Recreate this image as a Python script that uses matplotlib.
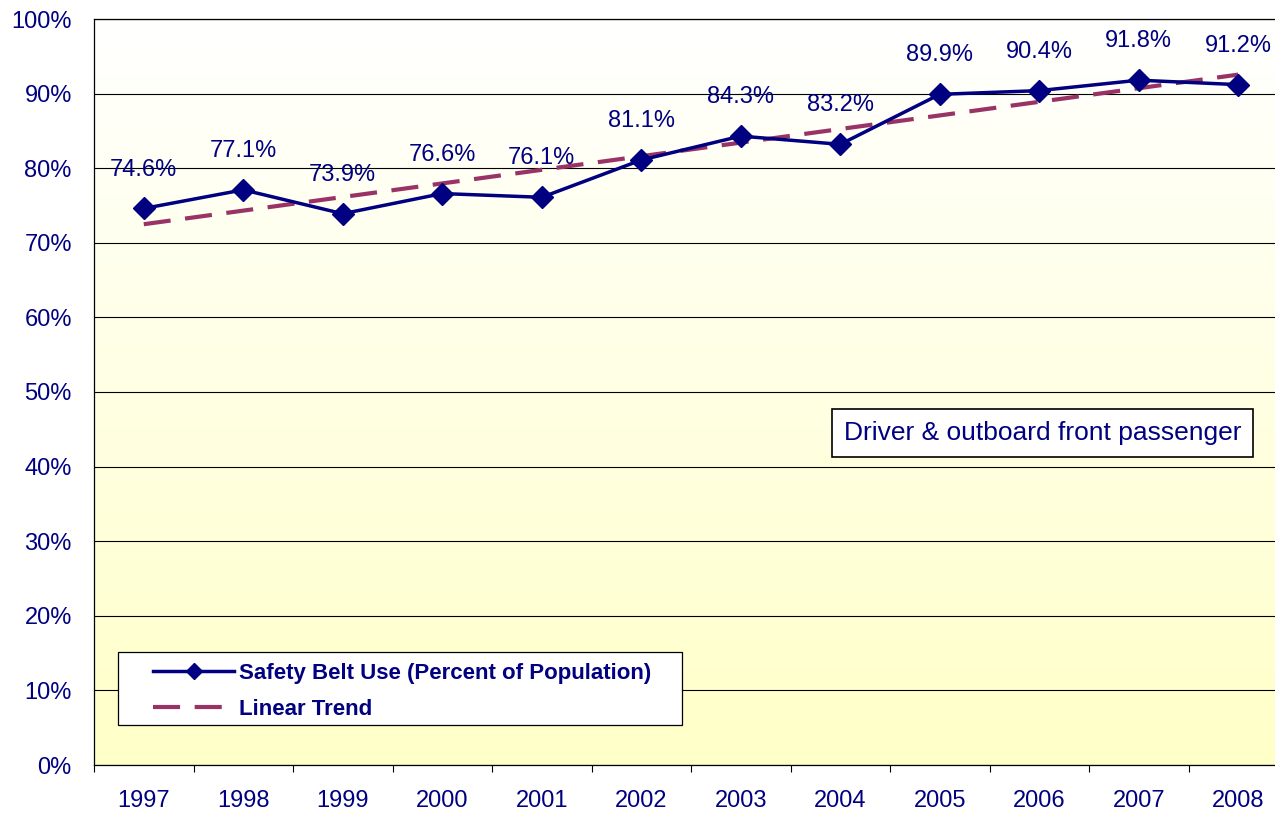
import numpy as np
import matplotlib
matplotlib.use("Agg")
import matplotlib.pyplot as plt
from matplotlib.colors import LinearSegmentedColormap
from matplotlib.patches import Rectangle

plt.rcParams['font.family'] = ['Liberation Sans', 'DejaVu Sans']

years = ['1997', '1998', '1999', '2000', '2001', '2002',
         '2003', '2004', '2005', '2006', '2007', '2008']
belt_use = [74.6, 77.1, 73.9, 76.6, 76.1, 81.1, 84.3, 83.2, 89.9, 90.4, 91.8, 91.2]
y_ticks = [0, 10, 20, 30, 40, 50, 60, 70, 80, 90, 100]

navy = '#000080'
trend_col = '#993366'

x = np.arange(len(years))
slope, icpt = np.polyfit(x, belt_use, 1)
trend = slope * x + icpt

fig = plt.figure(figsize=(12.75, 8.14), dpi=100)
ax = fig.add_axes([94 / 1275, 1 - 765 / 814, 1194 / 1275, 746 / 814])
ax.set_xlim(-0.5, 11.5)
ax.set_ylim(0, 100)

# background gradient: white at top, pale yellow at bottom
cmap = LinearSegmentedColormap.from_list('bg', ['#FFFFC8', '#FFFFFF'])
grad = np.linspace(0, 1, 256).reshape(-1, 1)
ax.imshow(grad, extent=[-0.5, 11.5, 0, 100], origin='lower', aspect='auto',
          cmap=cmap, zorder=0)

ax.set_yticks(y_ticks)
ax.set_yticklabels([f'{v}%' for v in y_ticks])
ax.yaxis.grid(True, color='black', linewidth=0.8, zorder=1)
ax.set_axisbelow(False)

ax.set_xticks(x)
ax.set_xticklabels(years)
ax.set_xticks(np.arange(-0.5, 11.6, 1), minor=True)
ax.tick_params(axis='x', which='major', length=0, pad=18, labelsize=17, labelcolor=navy)
ax.tick_params(axis='x', which='minor', length=5, width=0.8, direction='out')
ax.tick_params(axis='y', length=0, pad=16, labelsize=17, labelcolor=navy)

for s in ax.spines.values():
    s.set_linewidth(0.9)
ax.spines['right'].set_visible(False)

ax.plot(x, trend, color=trend_col, linewidth=3, dashes=(6.5, 3.5), zorder=3,
        label='Linear Trend')
ax.plot(x, belt_use, color=navy, linewidth=2.5, marker='D', markersize=11,
        zorder=4, label='Safety Belt Use (Percent of Population)')

for xi, v in zip(x, belt_use):
    ax.annotate(f'{v:.1f}%', (xi, v), xytext=(0, 28), textcoords='offset points',
                ha='center', va='center', fontsize=17, color=navy, zorder=5,
                annotation_clip=False)

# legend frame drawn by hand so the padding matches the original
ax.add_patch(Rectangle((0.0201, 0.0536), 0.4724, 0.0979, transform=ax.transAxes,
                       facecolor='white', edgecolor='black', linewidth=0.9, zorder=6))
handles, labels = ax.get_legend_handles_labels()
leg = ax.legend(handles[::-1], labels[::-1], loc='upper left',
                bbox_to_anchor=(0.0494, 0.1368), frameon=False,
                handlelength=3.65, handletextpad=0.2, borderpad=0,
                labelspacing=0.67, borderaxespad=0, markerscale=0.75,
                prop={'weight': 'bold', 'size': 16})
for t in leg.get_texts():
    t.set_color(navy)
leg.set_zorder(7)

ax.text(9.035, 44.5, 'Driver & outboard front passenger', ha='center', va='center',
        fontsize=19, color=navy, zorder=6,
        bbox=dict(boxstyle='square,pad=0.45', facecolor='white', edgecolor='black',
                  linewidth=1.2))

fig.savefig('out.png', dpi=100)
